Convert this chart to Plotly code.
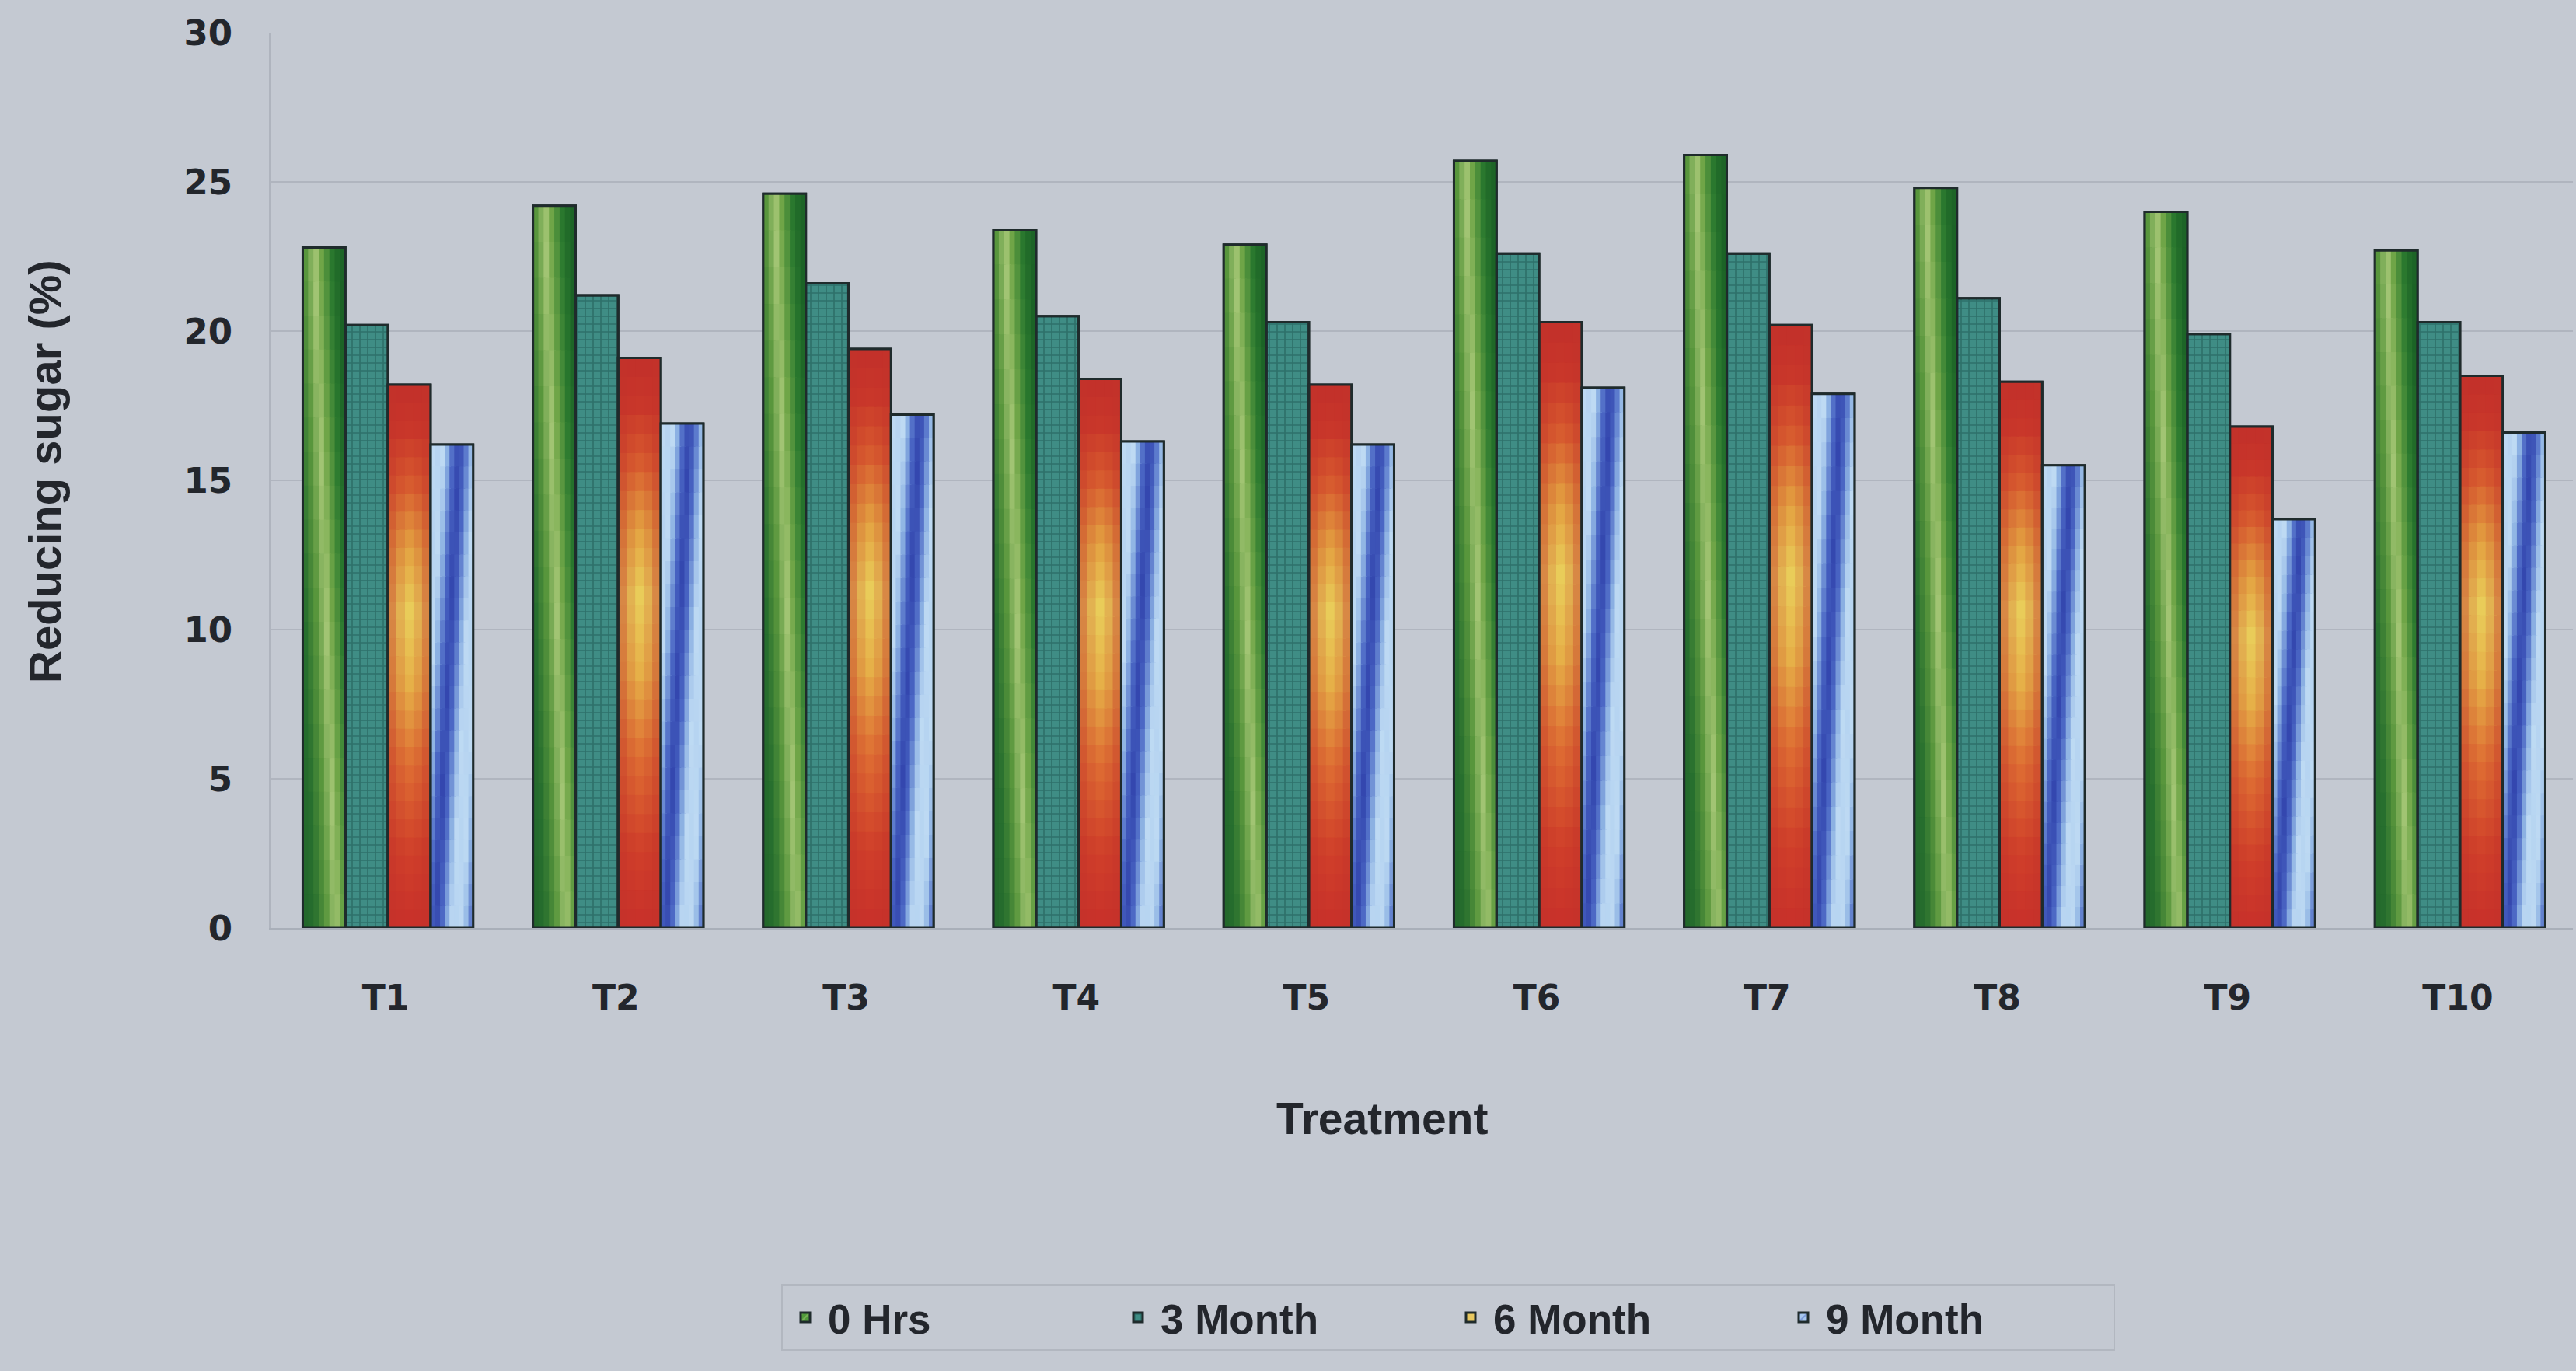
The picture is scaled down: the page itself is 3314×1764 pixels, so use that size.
import plotly.graph_objects as go

# ---- data -------------------------------------------------------------
treatments = ["T1", "T2", "T3", "T4", "T5", "T6", "T7", "T8", "T9", "T10"]
hrs_0 = [22.8, 24.2, 24.6, 23.4, 22.9, 25.7, 25.9, 24.8, 24.0, 22.7]
month_3 = [20.2, 21.2, 21.6, 20.5, 20.3, 22.6, 22.6, 21.1, 19.9, 20.3]
month_6 = [18.2, 19.1, 19.4, 18.4, 18.2, 20.3, 20.2, 18.3, 16.8, 18.5]
month_9 = [16.2, 16.9, 17.2, 16.3, 16.2, 18.1, 17.9, 15.5, 13.7, 16.6]
series_names = ["0 Hrs", "3 Month", "6 Month", "9 Month"]
y_ticks = [0, 5, 10, 15, 20, 25, 30]

series_values = [hrs_0, month_3, month_6, month_9]

# ---- styling ------------------------------------------------------------
BG = "#c4c9d2"
INK = "#23262c"
OUTLINE = "#1f2b2c"
BAR_W = 0.185          # width of one bar, in category units
GROUP_LEFT = -0.36     # left edge of the first bar relative to the category centre


def hex_rgb(h):
    h = h.lstrip("#")
    return tuple(int(h[i:i + 2], 16) for i in (0, 2, 4))


def blend(stops, t):
    """Linear colour interpolation along a list of (position, hex) stops."""
    if t <= stops[0][0]:
        return hex_rgb(stops[0][1])
    for (p0, c0), (p1, c1) in zip(stops, stops[1:]):
        if t <= p1:
            f = (t - p0) / (p1 - p0)
            a, b = hex_rgb(c0), hex_rgb(c1)
            return tuple(a[i] + (b[i] - a[i]) * f for i in range(3))
    return hex_rgb(stops[-1][1])


def mix(c1, c2, f):
    return tuple(c1[i] + (c2[i] - c1[i]) * f for i in range(3))


def css(c):
    return "rgb(%d,%d,%d)" % tuple(int(round(v)) for v in c)


# shaded "cylinder" green, highlight drifting right towards the base
GREEN_STOPS = [(-1.0, "#1d5e26"), (-0.5, "#276f2e"), (-0.22, "#5a973d"),
               (0.0, "#a3c574"), (0.14, "#70a648"), (0.38, "#2b7a2f"),
               (0.6, "#1b6226"), (1.0, "#2b7230")]


def green_shade(u, t):
    centre = 0.28 + 0.5 * (1 - t)
    return blend(GREEN_STOPS, u - centre)


# fire gradient: red top and bottom, yellow core
RED_V = [(0.0, "#c8302a"), (0.14, "#d0402a"), (0.3, "#de6e33"),
         (0.45, "#e6b048"), (0.58, "#e9cd5a"), (0.7, "#e3a141"),
         (0.82, "#d75a2e"), (0.92, "#c9362a"), (1.0, "#c2302a")]


def red_shade(u, t):
    base = blend(RED_V, t)
    edge = abs(2 * u - 1) ** 1.4
    return mix(base, hex_rgb("#c2322a"), 0.6 * edge)


# pale blue with steep dark diagonal bands
BLUE_STOPS = [(0.0, "#3346ae"), (0.14, "#4a66c4"), (0.27, "#8db2e3"),
              (0.38, "#bedaf3"), (0.5, "#b6d4f1")]


def blue_shade(u, t):
    band = 0.12 + 0.55 * t
    d = ((u - band + 0.5) % 1.0) - 0.5
    return blend(BLUE_STOPS, abs(d))


fig = go.Figure()

# legend carriers (full bars underneath, carrying the legend swatches)
legend_styles = [
    dict(color="#4f9a3a", pattern=dict(shape="/", fgcolor="#a9c97a", size=8, solidity=0.3)),
    dict(color="#3a867e", pattern=dict(shape="+", fgcolor="#1b524e", bgcolor="#3f8d85",
                                       size=10, solidity=0.3)),
    dict(color="#e8c860"),
    dict(color="#a8c8ee", pattern=dict(shape="/", fgcolor="#4d6bc6", size=8, solidity=0.3)),
]
for s, (name, vals) in enumerate(zip(series_names, series_values)):
    fig.add_trace(go.Bar(
        x=treatments, y=vals, name=name,
        offset=GROUP_LEFT + s * BAR_W, width=BAR_W,
        marker=dict(line=dict(color=OUTLINE, width=3), **legend_styles[s]),
        hoverinfo="x+y+name",
    ))


def add_shaded(vals, s, shade, ncols, nrows):
    """Tile one series' bars with small cells whose colour follows shade(u, t)."""
    cw = BAR_W / ncols
    for j in range(nrows):
        frac_h = min(1.3 / nrows, (nrows - j) / nrows)
        seg = [v * frac_h for v in vals]
        base = [v * j / nrows for v in vals]
        t = (j + 0.5) / nrows
        for k in range(ncols):
            u = (k + 0.5) / ncols
            fig.add_trace(go.Bar(
                x=treatments, y=seg, base=base,
                offset=GROUP_LEFT + s * BAR_W + k * cw,
                width=min(cw * 1.3, BAR_W - k * cw),
                marker=dict(color=css(shade(u, t)), line=dict(width=0)),
                showlegend=False, hoverinfo="skip",
            ))


add_shaded(hrs_0, 0, green_shade, 8, 20)
add_shaded(month_6, 2, red_shade, 5, 30)
add_shaded(month_9, 3, blue_shade, 9, 22)

# crisp outlines on top
for s, vals in enumerate(series_values):
    fig.add_trace(go.Bar(
        x=treatments, y=vals,
        offset=GROUP_LEFT + s * BAR_W, width=BAR_W,
        marker=dict(color="rgba(0,0,0,0)", line=dict(color=OUTLINE, width=3)),
        showlegend=False, hoverinfo="skip",
    ))

W, H = 3314, 1764
L, R, T, B = 348, 4, 42, 570

fig.update_layout(
    width=W, height=H,
    margin=dict(l=L, r=R, t=T, b=B),
    paper_bgcolor=BG, plot_bgcolor=BG,
    barmode="overlay",
    font=dict(family="Liberation Sans, Arial, sans-serif", color=INK),
    xaxis=dict(
        type="category", range=[-0.5, 9.5],
        showgrid=False, showline=True, linecolor="#a9afb9", linewidth=2,
        ticks="", ticklabelstandoff=50,
        tickfont=dict(family="DejaVu Sans", size=44, weight="bold", color=INK),
    ),
    yaxis=dict(
        range=[0, 30], tickmode="array", tickvals=y_ticks,
        showgrid=True, gridcolor="#b0b5bf", gridwidth=2,
        showline=True, linecolor="#afb4be", linewidth=2,
        zeroline=False, ticks="", ticklabelstandoff=38,
        tickfont=dict(family="DejaVu Sans", size=45, weight="bold", color=INK),
    ),
    legend=dict(
        orientation="h", x=(1005 - L) / (W - L - R), xanchor="left",
        y=-(1652 - (H - B)) / (H - T - B), yanchor="top",
        bgcolor=BG, bordercolor="#b2b7c0", borderwidth=2,
        font=dict(family="Liberation Sans, Arial", size=53, weight="bold", color=INK),
        entrywidth=365, entrywidthmode="pixels", itemwidth=48,
        traceorder="normal",
    ),
    annotations=[
        dict(text="<b>Treatment</b>", xref="paper", yref="paper",
             x=(1778 - L) / (W - L - R), y=-(1439 - (H - B)) / (H - T - B),
             xanchor="center", yanchor="middle", showarrow=False,
             font=dict(size=57, color=INK)),
        dict(text="<b>Reducing sugar (%)</b>", xref="paper", yref="paper",
             x=(57 - L) / (W - L - R), y=((H - B) - 607) / (H - T - B),
             xanchor="center", yanchor="middle", textangle=-90, showarrow=False,
             font=dict(size=58, color=INK)),
    ],
    showlegend=True,
)

fig.write_html("out.html")
